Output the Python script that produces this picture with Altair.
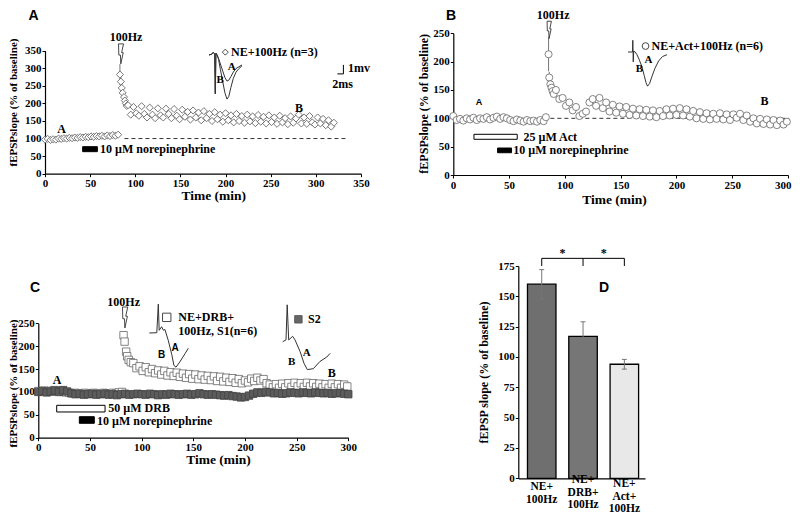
import altair as alt
import pandas as pd

# ================= DATA =================
# Panel A : NE + 100Hz (n=3)
a_base_t = [0, 3, 6, 9, 12, 15, 18, 21, 24, 27, 30, 33, 36, 39, 42, 45, 48, 51, 54, 57, 60, 63, 66, 69, 72, 75, 78, 81]
a_base_v = [97, 99, 96, 98, 97, 100, 99, 101, 100, 102, 101, 103, 102, 104, 103, 105, 104, 106, 105, 107, 106, 108, 106, 109, 107, 110, 108, 111]
a_early_t = [83, 84, 85, 86, 87.5, 88.5, 89.5, 90.5]
a_early_v = [282, 262, 244, 230, 218, 208, 200, 193]
a_early_err = [30, 20, 14, 12, 10, 8, 8, 8]
a_post_t = [92, 95, 98, 101, 104, 107, 110, 113, 116, 119,
            122, 125, 128, 131, 134, 137, 140, 143, 146, 149,
            152, 155, 158, 161, 164, 167, 170, 173, 176, 179,
            182, 185, 188, 191, 194, 197, 200, 203, 206, 209,
            212, 215, 218, 221, 224, 227, 230, 233, 236, 239,
            242, 245, 248, 251, 254, 257, 260, 263, 266, 269,
            272, 275, 278, 281, 284, 287, 290, 293, 296, 299,
            302, 305, 308, 311, 314, 317, 320]
a_post_v = [195, 168, 190, 172, 165, 192, 170, 160, 188, 168,
            158, 186, 166, 160, 185, 170, 158, 184, 165, 155,
            182, 162, 176, 154, 180, 160, 174, 152, 178, 158,
            170, 150, 175, 155, 168, 148, 172, 152, 166, 146,
            170, 150, 164, 145, 168, 149, 163, 144, 167, 148,
            162, 143, 166, 147, 160, 142, 165, 146, 158, 141,
            163, 145, 157, 168, 143, 160, 142, 164, 146, 140,
            160, 143, 156, 138, 152, 134, 145]

# Panel B : NE + Act + 100Hz (n=6)
b_base_t = [0, 3, 6, 9, 12, 15, 18, 21, 24, 27, 30, 33, 36, 39, 42, 45, 48, 51, 54, 57, 60, 63, 66, 69, 72, 75, 78, 81, 83]
b_base_v = [104, 97, 99, 96, 100, 98, 101, 97, 100, 99, 102, 98, 101, 103, 99, 102, 100, 97, 95, 98, 96, 94, 97, 95, 96, 94, 97, 95, 102]
b_early_t = [85.4, 86, 87, 88, 89, 90]
b_early_v = [213, 172, 160, 154, 148, 143]
b_early_err = [30, 10, 8, 8, 6, 6]
b_post_t = [92, 95, 98, 101, 104, 107, 110, 113, 116, 119,
            122, 125, 128, 131, 134, 137, 140, 143, 146, 149,
            152, 155, 158, 161, 164, 167, 170, 173, 176, 179,
            182, 185, 188, 191, 194, 197, 200, 203, 206, 209,
            212, 215, 218, 221, 224, 227, 230, 233, 236, 239,
            242, 245, 248, 251, 254, 257, 260, 263, 266, 269,
            272, 275, 278, 281, 284, 287, 290, 293, 296, 299]
b_post_v = [150, 134, 136, 122, 128, 114, 120, 104, 108, 112,
            128, 134, 122, 136, 118, 128, 112, 124, 110, 121,
            108, 120, 106, 117, 105, 116, 104, 115, 103, 114,
            102, 113, 104, 116, 105, 117, 106, 118, 105, 116,
            103, 113, 100, 111, 99, 109, 98, 108, 99, 109,
            98, 107, 97, 107, 101, 108, 97, 105, 94, 100,
            91, 99, 90, 98, 89, 97, 88, 96, 89, 94]

# Panel C : NE + DRB + 100Hz, S1 (n=6) and S2
c_s2_t = [0, 4, 8, 12, 16, 20, 24, 28, 32, 36, 40, 44, 48, 52, 56, 60, 64, 68, 72, 76,
          80, 84, 88, 92, 96, 100, 104, 108, 112, 116, 120, 124, 128, 132, 136, 140, 144, 148, 152, 156,
          160, 164, 168, 172, 176, 180, 184, 188, 192, 196, 200, 204, 208, 212, 216, 220, 224, 228, 232, 236,
          240, 244, 248, 252, 256, 260, 264, 268, 272, 276, 280, 284, 288, 292, 296, 300]
c_s2_v = [100, 102, 99, 101, 103, 100, 104, 101, 97, 95, 96, 94, 95, 96, 94, 95, 96, 94, 95, 93,
          95, 96, 94, 95, 96, 95, 94, 96, 95, 93, 95, 94, 96, 95, 94, 95, 96, 94, 95, 97,
          95, 94, 95, 94, 93, 92, 93, 91, 90, 88, 89, 92, 96, 99, 98, 100, 99, 97, 98, 96,
          97, 99, 98, 97, 99, 98, 97, 99, 98, 97, 98, 96, 97, 98, 96, 95]
c_s1_base_t = [0, 3, 6, 9, 12, 15, 18, 21, 24, 27, 30, 33, 36, 39, 42, 45, 48, 51, 54, 57, 60, 63, 66, 69, 72, 75, 78, 81]
c_s1_base_v = [102, 101, 103, 100, 102, 104, 101, 103, 100, 99, 98, 97, 98, 96, 97, 98, 96, 97, 98, 96, 97, 98, 97, 96, 98, 97, 99, 100]
c_s1_early_t = [82.5, 83.5, 85, 86, 87.5, 89.5]
c_s1_early_v = [224, 210, 188, 178, 170, 165]
c_s1_post_t = [92, 95, 98, 101, 104, 107, 110, 113, 116, 119,
               122, 125, 128, 131, 134, 137, 140, 143, 146, 149,
               152, 155, 158, 161, 164, 167, 170, 173, 176, 179,
               182, 185, 188, 191, 194, 197, 200, 203, 206, 209,
               212, 215, 218, 221, 224, 227, 230, 233, 236, 239,
               242, 245, 248, 251, 254, 257, 260, 263, 266, 269,
               272, 275, 278, 281, 284, 287, 290, 293, 296, 299]
c_s1_post_v = [163, 152, 156, 146, 154, 143, 150, 141, 147, 138,
               146, 136, 143, 135, 142, 133, 140, 131, 139, 129,
               138, 128, 136, 127, 135, 126, 134, 124, 133, 123,
               131, 122, 130, 120, 128, 119, 125, 121, 129, 124,
               131, 125, 128, 119, 116, 110, 117, 109, 118, 110,
               119, 111, 120, 112, 119, 111, 120, 112, 119, 111,
               118, 110, 117, 109, 118, 110, 117, 109, 116, 112]

# Panel D : summary bars
d_cats = ["NE+|100Hz", "NE+|DRB+|100Hz", "NE+|Act+|100Hz"]
d_mean = [160, 117, 94]
d_err = [12, 12, 4]

# Representative fEPSP traces (ms, mV)
trA_t = [0, 1.0, 1.4, 1.9, 2.1, 2.3, 2.7, 3.2, 3.8, 4.6, 5.3, 6.0, 6.6, 7.3, 8.1, 9.0, 10.0, 11.0]
trA_post = [0, 0.1, 0.3, 0.1, -4.3, 0.2, 0.0, -0.5, -1.6, -3.0, -4.2, -4.9, -4.6, -3.6, -2.6, -1.9, -1.5, -1.2]
trA_base = [0, 0.1, 0.3, 0.1, -4.3, 0.2, 0.0, -0.4, -1.0, -1.8, -2.5, -2.9, -2.8, -2.4, -1.9, -1.5, -1.3, -1.1]
trB_t = [0, 1.5, 1.6, 1.75, 1.9, 2.4, 3.0, 3.8, 4.6, 5.4, 6.0, 6.5, 7.2, 8.0, 9.0, 10.2, 11.5, 13.0]
trB_v = [0, 0, 1.3, -1.1, 0.1, 0, -0.3, -0.9, -1.6, -2.6, -3.4, -3.8, -3.5, -2.7, -1.8, -1.0, -0.5, -0.3]
trC1_t = [0, 2.5, 3.0, 3.3, 4.1, 4.7, 5.2, 6.3, 7.5, 8.2, 8.9, 10.2, 11.9, 13.0]
trC1_v = [0, 0.03, 3.2, 0.3, 0.7, 0.3, 0.4, -0.8, -2.4, -3.6, -3.8, -3.2, -2.3, -1.7]
trC2_t = [0, 1.1, 1.5, 2.0, 3.3, 4.1, 5.8, 7.1, 8.2, 10.2, 12.4, 14.7, 15.8]
trC2_v = [0, 0.2, 4.1, 0.2, 0.6, 0.2, -1.1, -2.4, -3.1, -3.0, -2.2, -1.7, -1.3]
sbar_t = [42.8, 44.8, 44.8]
sbar_v = [-2.1, -2.1, -1.1]

a_ticks = [0, 50, 100, 150, 200, 250, 300, 350]
bc_xticks = [0, 50, 100, 150, 200, 250, 300]
bc_yticks = [0, 50, 100, 150, 200, 250]
d_yticks = [0, 25, 50, 75, 100, 125, 150, 175]

# ================= LAYOUT HELPERS =================
OFF = 8
W, H = 784, 506
SERIF = "Liberation Serif"
SANS = "Liberation Sans"
ONE = pd.DataFrame({"k": [0]})
BOLT = "M -0.25 -1 L 0.25 -1 L 0.06 -0.12 L 0.22 -0.12 L -0.02 1 L -0.06 0.12 L -0.22 0.12 Z"


def lin(dom, a, b):
    return alt.Scale(domain=dom, range=[a - OFF, b - OFF], nice=False, zero=False)


PA = dict(x=lin([0, 350], 45, 361), y=lin([0, 350], 173.7, 50.7))
PB = dict(x=lin([0, 300], 453.3, 788), y=lin([0, 250], 175, 33.3))
PC = dict(x=lin([0, 300], 38.3, 348.3), y=lin([0, 250], 437.7, 323.3))
PD = dict(x=lin([-0.567, 2.5], 518.3, 645), y=lin([0, 175], 478.3, 266))


def inset(x0, y0):
    return dict(x=lin([0, 100], x0, x0 + 300), y=lin([-10, 10], y0 + 90, y0 - 90))


IA = inset(209, 55)
IB = inset(628, 52)
IC1 = inset(149.3, 333)
IC2 = inset(282.7, 341.7)


def qx(f, p, axis=None):
    return alt.X(f, type="quantitative", scale=p["x"], axis=axis)


def qy(f, p, axis=None):
    return alt.Y(f, type="quantitative", scale=p["y"], axis=axis)


def dx(v, p):
    return alt.XDatum(v, type="quantitative", scale=p["x"], axis=None)


def dy(v, p):
    return alt.YDatum(v, type="quantitative", scale=p["y"], axis=None)


def yaxis(ax_x, vals, title, tx, ty, tsize):
    return alt.Axis(orient="left", offset=-(ax_x - OFF), values=vals, format="d", title=title,
                    titleX=tx - ax_x, titleY=ty - OFF, titleAngle=270, titleAlign="center",
                    titleBaseline="middle", titleFontSize=tsize)


def xaxis(ax_y, vals, title, tx, ty, tsize=13.5, flush=False):
    return alt.Axis(orient="bottom", offset=ax_y - OFF - H, values=vals, format="d", title=title,
                    titleX=tx - OFF, titleY=ty - ax_y, titleAlign="center", titleBaseline="middle",
                    titleFontSize=tsize, labelFlush=flush, labelFlushOffset=3)


def txt(p, t, v, s, size=12, font=SERIF, align="left", weight="bold"):
    return alt.Chart(ONE).mark_text(text=s, fontSize=size, font=font, fontWeight=weight,
                                    align=align, baseline="middle", color="black").encode(
        x=dx(t, p), y=dy(v, p))


def sym(p, t, v, shape, size, fill, stroke="#333", sw=0.9):
    return alt.Chart(ONE).mark_point(shape=shape, size=size, filled=True, fill=fill, stroke=stroke,
                                     strokeWidth=sw, opacity=1).encode(x=dx(t, p), y=dy(v, p))


def rect(p, t0, t1, v0, v1, fill):
    return alt.Chart(ONE).mark_rect(fill=fill, stroke="black", strokeWidth=1).encode(
        x=dx(t0, p), x2=alt.X2Datum(t1), y=dy(v0, p), y2=alt.Y2Datum(v1))


def dashed(p, t0, t1, v):
    return alt.Chart(ONE).mark_rule(color="#333", strokeDash=[4, 3], strokeWidth=1).encode(
        x=dx(t0, p), x2=alt.X2Datum(t1), y=dy(v, p))


def points(t, v, p, shape, size, fill, stroke, axes=None):
    df = pd.DataFrame({"t": t, "v": v})
    ax = axes if axes else (None, None)
    return alt.Chart(df).mark_point(shape=shape, size=size, filled=True, fill=fill, stroke=stroke,
                                    strokeWidth=0.8, opacity=1).encode(
        x=qx("t", p, ax[0]), y=qy("v", p, ax[1]))


def errbars(t, v, e, p, color="#777"):
    df = pd.DataFrame({"t": t, "v": v, "e": e})
    return alt.Chart(df).transform_calculate(lo="datum.v - datum.e", hi="datum.v + datum.e").mark_rule(
        color=color, strokeWidth=1).encode(x=qx("t", p), y=qy("lo", p), y2=alt.Y2("hi:Q"))


def trace(ts, vs, p, color="#333"):
    df = pd.DataFrame({"t": ts, "v": vs})
    return alt.Chart(df).mark_line(color=color, strokeWidth=1).encode(x=qx("t", p), y=qy("v", p))


def letter(s, x, y):
    return alt.Chart(ONE).mark_text(text=s, font=SANS, fontWeight="bold", fontSize=14,
                                    align="center", baseline="middle", color="black").encode(
        x=alt.value(x - OFF), y=alt.value(y - OFF))


def dlabel(sel, top):
    return alt.Chart(d_df).transform_filter(sel).mark_text(
        font=SERIF, fontWeight="bold", fontSize=11.5, align="center", baseline="top", lineBreak="|",
        lineHeight=12.5, color="black").encode(x=qx("idx", PD), y=alt.value(top - OFF), text="cat:N")


layers = []

# ---------------- Panel A ----------------
layers += [
    dashed(PA, 88, 335, 100),
    errbars(a_early_t, a_early_v, a_early_err, PA),
    points(a_base_t + a_early_t + a_post_t, a_base_v + a_early_v + a_post_v, PA, "diamond", 50,
           "white", "#555",
           axes=(xaxis(173.7, a_ticks, "Time (min)", 213.3, 195.5),
                 yaxis(45, a_ticks, "fEPSPslope (% of baseline)", 13.5, 102, 11))),
    rect(PA, 41.7, 58, 76.9, 62.7, "black"),
    txt(PA, 60.9, 70, "10 µM norepinephrine"),
    txt(PA, 89.7, 390, "100Hz", align="center"),
    txt(PA, 18.5, 126.5, "A", align="center"),
    txt(PA, 281.3, 186.3, "B", align="center"),
    sym(PA, 84.2, 341, BOLT, 400, "white"),
    sym(PA, 199.7, 345.9, "diamond", 36, "white"),
    txt(PA, 206, 346, "NE+100Hz (n=3)"),
    trace(trA_t, trA_base, IA),
    trace(trA_t, trA_post, IA),
    txt(IA, 3.7, -2.8, "B", size=11, align="center"),
    txt(IA, 7.6, -1.3, "A", size=11, align="center"),
    trace(sbar_t, sbar_v, IA, color="black"),
    txt(IA, 46.3, -1.4, "1mv", size=12),
    txt(IA, 44.5, -3.25, "2ms", size=12, align="center"),
]

# ---------------- Panel B ----------------
layers += [
    dashed(PB, 87, 301, 100),
    errbars(b_early_t, b_early_v, b_early_err, PB),
    points(b_base_t + b_early_t + b_post_t, b_base_v + b_early_v + b_post_v, PB, "circle", 50,
           "white", "#666",
           axes=(xaxis(175, bc_xticks, "Time (min)", 614, 199.5, flush=True),
                 yaxis(453.3, bc_yticks, "fEPSPslope (% of baseline)", 423.3, 103.3, 12))),
    rect(PB, 18.5, 57.3, 71.8, 63, "white"),
    rect(PB, 39.7, 52.2, 47.6, 39.3, "black"),
    txt(PB, 62.9, 67, "25 µM Act"),
    txt(PB, 53.7, 44, "10 µM norepinephrine"),
    txt(PB, 89.5, 282, "100Hz", align="center"),
    txt(PB, 23, 128, "A", size=9, font=SANS, align="center"),
    txt(PB, 279, 130, "B", align="center"),
    sym(PB, 86, 256, BOLT, 300, "white"),
    sym(PB, 172.3, 227.5, "circle", 45, "white"),
    txt(PB, 177.7, 227.5, "NE+Act+100Hz (n=6)"),
    trace(trB_t, trB_v, IB),
    txt(IB, 3.8, -1.9, "B", size=11, align="center"),
    txt(IB, 6.8, -0.9, "A", size=11, align="center"),
]

# ---------------- Panel C ----------------
layers += [
    points(c_s1_base_t + c_s1_early_t + c_s1_post_t, c_s1_base_v + c_s1_early_v + c_s1_post_v, PC,
           "square", 55, "white", "#666",
           axes=(xaxis(437.7, bc_xticks, "Time (min)", 218, 459.5),
                 yaxis(38.3, bc_yticks, "fEPSPslope (% of baseline)", 13.5, 383, 11))),
    points(c_s2_t, c_s2_v, PC, "square", 55, "#5c5c5c", "#444"),
    rect(PC, 17.8, 64.6, 70.8, 56.2, "white"),
    rect(PC, 39.7, 54.2, 45.9, 31.5, "black"),
    txt(PC, 67.8, 64, "50 µM DRB"),
    txt(PC, 56.8, 36, "10 µM norepinephrine"),
    txt(PC, 82.6, 297, "100Hz", align="center"),
    txt(PC, 18.2, 126, "A", align="center"),
    txt(PC, 284, 141, "B", align="center"),
    sym(PC, 84, 262.7, BOLT, 440, "white"),
    sym(PC, 124.3, 263, "square", 70, "white"),
    txt(PC, 135.5, 263, "NE+DRB+"),
    txt(PC, 135.5, 233, "100Hz, S1(n=6)"),
    sym(PC, 251.7, 258.7, "square", 55, "#666", stroke="#555"),
    txt(PC, 261, 258.7, "S2"),
    trace(trC1_t, trC1_v, IC1),
    trace(trC2_t, trC2_v, IC2),
    txt(IC1, 4.1, -2.4, "B", size=10, font=SANS, align="center"),
    txt(IC1, 8.6, -1.7, "A", size=10, font=SANS, align="center"),
    txt(IC2, 3.0, -2.2, "B", size=11, align="center"),
    txt(IC2, 8.0, -1.3, "A", size=11, align="center"),
]

# ---------------- Panel D ----------------
d_df = pd.DataFrame({"cat": d_cats, "idx": [0, 1, 2], "mean": d_mean, "err": d_err})
bar_colors = ["#6f6f6f", "#767676", "#e8e8e8"]
bars = alt.Chart(d_df).transform_calculate(
    x0="datum.idx - 0.345", x1="datum.idx + 0.345", base="0"
).mark_rect(stroke="black", strokeWidth=1.3).encode(
    x=qx("x0", PD, alt.Axis(orient="bottom", offset=478.3 - OFF - H, ticks=False, labels=False,
                            title=None)),
    x2=alt.X2("x1:Q"),
    y=qy("mean", PD, yaxis(518.3, d_yticks, "fEPSP slope (% of baseline)", 483, 372, 12)),
    y2=alt.Y2("base:Q"),
    color=alt.Color("cat:N", scale=alt.Scale(domain=d_cats, range=bar_colors), legend=None),
)
d_err_rule = alt.Chart(d_df).transform_calculate(
    lo="datum.mean - datum.err", hi="datum.mean + datum.err"
).mark_rule(color="#777", strokeWidth=1).encode(x=qx("idx", PD), y=qy("lo", PD), y2=alt.Y2("hi:Q"))
d_caps_hi = alt.Chart(d_df).transform_calculate(
    hi="datum.mean + datum.err", a="datum.idx - 0.06", b="datum.idx + 0.06"
).mark_rule(color="#777", strokeWidth=1).encode(x=qx("a", PD), x2=alt.X2("b:Q"), y=qy("hi", PD))
d_caps_lo = alt.Chart(d_df).transform_calculate(
    lo="datum.mean - datum.err", a="datum.idx - 0.06", b="datum.idx + 0.06"
).mark_rule(color="#777", strokeWidth=1).encode(x=qx("a", PD), x2=alt.X2("b:Q"), y=qy("lo", PD))
br_df = pd.DataFrame({"idx": [0, 1, 2]})
d_br_v = alt.Chart(br_df).mark_rule(color="black", strokeWidth=1).encode(
    x=qx("idx", PD), y=dy(175, PD), y2=alt.Y2Datum(181.3))
d_br_h = alt.Chart(ONE).mark_rule(color="black", strokeWidth=1).encode(
    x=dx(0, PD), x2=alt.X2Datum(2), y=dy(181.3, PD))
layers += [
    bars, d_err_rule, d_caps_hi, d_caps_lo,
    dlabel("datum.idx == 0", 481), dlabel("datum.idx == 1", 474), dlabel("datum.idx == 2", 478),
    d_br_v, d_br_h,
    txt(PD, 0.5, 186, "*", size=12, align="center"),
    txt(PD, 1.5, 186, "*", size=12, align="center"),
]

# ---------------- panel letters ----------------
layers += [letter("A", 33.5, 16), letter("B", 451, 16), letter("C", 35, 288), letter("D", 604, 288)]

chart = alt.layer(*layers).resolve_scale(x="independent", y="independent").properties(
    width=W, height=H, padding=0, autosize=alt.AutoSizeParams(type="none")
).configure_view(stroke=None).configure_axis(
    grid=False, domainColor="black", domainWidth=1.2, tickColor="black", tickSize=3, tickWidth=1,
    labelFont=SERIF, labelFontWeight="bold", labelFontSize=11, labelColor="black", labelPadding=1,
    labelFlush=False, labelOverlap=False, titleFont=SERIF, titleFontWeight="bold", titleColor="black"
)

chart.save("out.html", embed_options={"renderer": "svg", "actions": False})
